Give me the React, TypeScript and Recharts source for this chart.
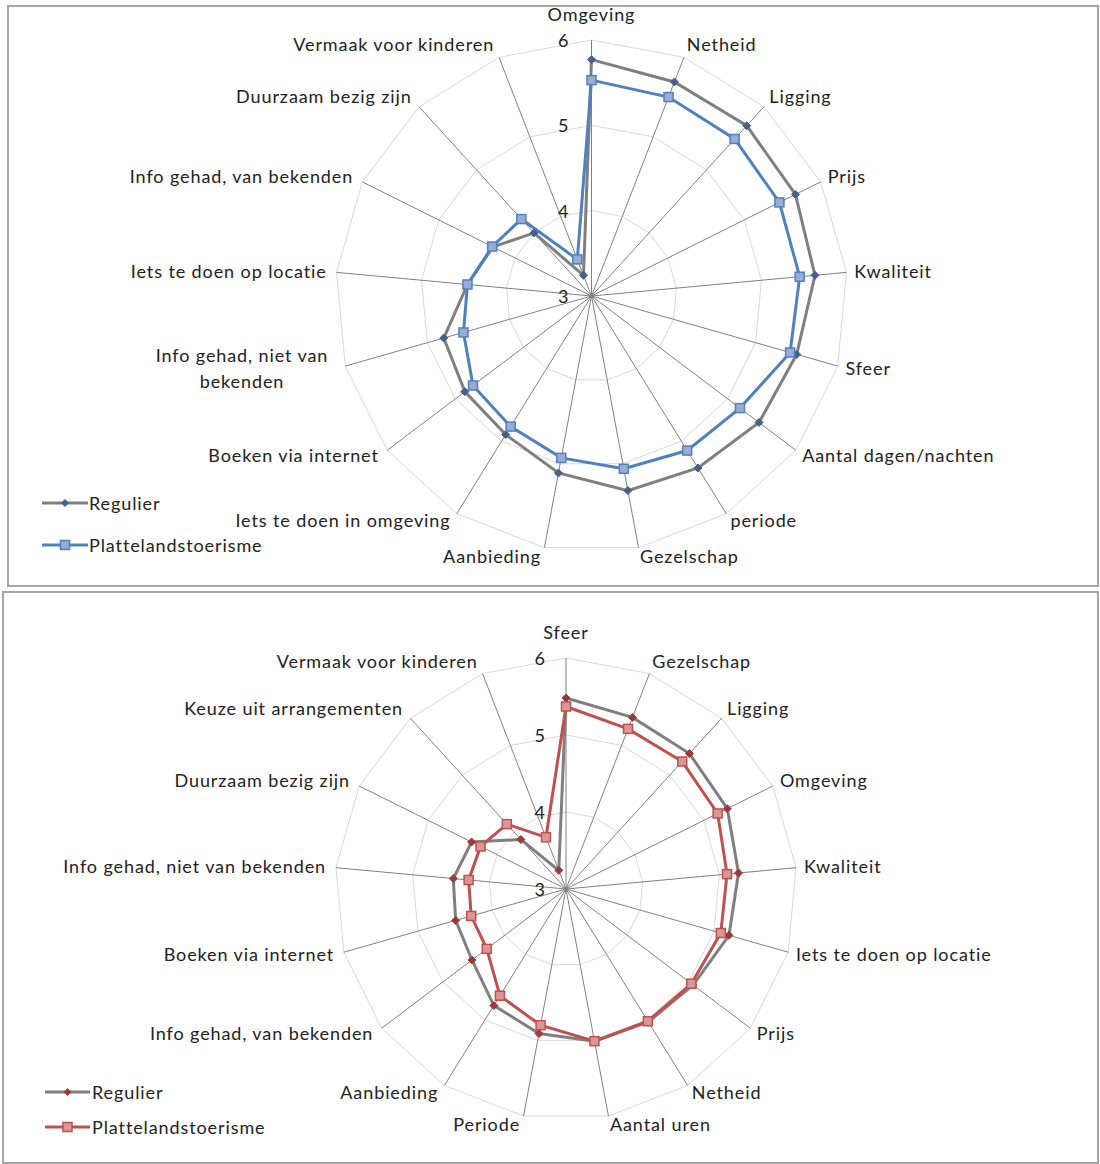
import React from 'react';
import { RadarChart, Radar, PolarGrid, PolarAngleAxis, PolarRadiusAxis } from 'recharts';

// ---- data -------------------------------------------------------------
const topCategories = [
  'Omgeving', 'Netheid', 'Ligging', 'Prijs', 'Kwaliteit', 'Sfeer',
  'Aantal dagen/nachten', 'periode', 'Gezelschap', 'Aanbieding',
  'Iets te doen in omgeving', 'Boeken via internet', 'Info gehad, niet van bekenden',
  'Iets te doen op locatie', 'Info gehad, van bekenden', 'Duurzaam bezig zijn',
  'Vermaak voor kinderen',
];
const topRegulier = [5.77, 5.69, 5.70, 5.67, 5.63, 5.50, 5.46, 5.37, 5.32, 5.11, 4.91, 4.86, 4.80, 4.46, 4.29, 4.00, 3.26];
const topPlatteland = [5.53, 5.50, 5.49, 5.46, 5.45, 5.42, 5.18, 5.13, 5.06, 4.93, 4.80, 4.74, 4.56, 4.46, 4.30, 4.22, 3.46];

const bottomCategories = [
  'Sfeer', 'Gezelschap', 'Ligging', 'Omgeving', 'Kwaliteit', 'Iets te doen op locatie',
  'Prijs', 'Netheid', 'Aantal uren', 'Periode', 'Aanbieding', 'Info gehad, van bekenden',
  'Boeken via internet', 'Info gehad, niet van bekenden', 'Duurzaam bezig zijn',
  'Keuze uit arrangementen', 'Vermaak voor kinderen',
];
const bottomRegulier = [5.48, 5.39, 5.38, 5.34, 5.25, 5.20, 5.07, 5.03, 5.01, 4.91, 4.78, 4.53, 4.49, 4.47, 4.37, 3.87, 3.26];
const bottomPlatteland = [5.37, 5.23, 5.24, 5.20, 5.10, 5.09, 5.04, 5.02, 5.01, 4.80, 4.63, 4.29, 4.28, 4.27, 4.24, 4.14, 3.72];

const seriesNames = ['Regulier', 'Plattelandstoerisme'];
const valueTicks = [3, 4, 5, 6];

// ---- styling ----------------------------------------------------------
const FONT = 'Lato, "Open Sans", sans-serif';
const FONT_SIZE = 18;
const LETTER_SPACING = 0.9;
const TEXT = '#222222';
const GRAY_LINE = '#7f7f7f';
const GRID = '#d9d9d9';
const SPOKE = '#808080';

type Palette = { line: string; fill: string; diamond: string };
const bluePalette: Palette = { line: '#4f81bd', fill: '#98acd6', diamond: '#46608a' };
const redPalette: Palette = { line: '#c0504d', fill: '#d99896', diamond: '#9a3b39' };

type Row = { name: string; regulier: number; platteland: number };
const buildRows = (cats: string[], a: number[], b: number[]): Row[] =>
  cats.map((name, i) => ({ name, regulier: a[i], platteland: b[i] }));

// ---- markers ----------------------------------------------------------
const diamondDot = (color: string) => (p: any) => {
  const { cx, cy, index } = p;
  if (cx == null || cy == null) return <g key={`dd-${index}`} />;
  const s = 4;
  return (
    <path
      key={`dd-${index}`}
      d={`M${cx},${cy - s}L${cx + s},${cy}L${cx},${cy + s}L${cx - s},${cy}Z`}
      fill={color}
      stroke={color}
      strokeWidth={1}
    />
  );
};

const squareDot = (pal: Palette) => (p: any) => {
  const { cx, cy, index } = p;
  if (cx == null || cy == null) return <g key={`sd-${index}`} />;
  const s = 9;
  return (
    <rect
      key={`sd-${index}`}
      x={cx - s / 2}
      y={cy - s / 2}
      width={s}
      height={s}
      fill={pal.fill}
      stroke={pal.line}
      strokeWidth={1.5}
    />
  );
};

// ---- axis labels ------------------------------------------------------
const makeAngleTick = (cx: number, cy: number, R: number, wrapAt: number, n: number) => (props: any) => {
  const { payload, index } = props;
  const deg = 90 - (index * 360) / n;
  const ang = (deg * Math.PI) / 180;
  const s = Math.cos(ang);
  const c = Math.sin(ang);
  const r = R + 8;
  let x = cx + r * s;
  let y = cy - r * c;
  let anchor: 'start' | 'middle' | 'end' = 'middle';
  if (s > 0.05) anchor = 'start';
  else if (s < -0.05) anchor = 'end';
  if (anchor === 'middle') y -= c * 18;
  else if (c > 0) y -= c * 6;
  if (anchor === 'end') x -= 2;
  const label = String(payload.value);

  if (wrapAt > 0 && label.length > wrapAt) {
    const cut = label.lastIndexOf(' ', wrapAt);
    const lines = [label.slice(0, cut), label.slice(cut + 1)];
    const half = (lines[0].length * (FONT_SIZE * 0.47 + LETTER_SPACING)) / 2;
    const mx = anchor === 'end' ? x - half : anchor === 'start' ? x + half : x;
    return (
      <text
        key={`at-${index}`}
        x={mx}
        y={y}
        textAnchor="middle"
        fontFamily={FONT}
        fontSize={FONT_SIZE}
        letterSpacing={LETTER_SPACING}
        fill={TEXT}
      >
        <tspan x={mx} y={y - 13} dominantBaseline="central">{lines[0]}</tspan>
        <tspan x={mx} y={y + 13} dominantBaseline="central">{lines[1]}</tspan>
      </text>
    );
  }
  return (
    <text
      key={`at-${index}`}
      x={x}
      y={y}
      textAnchor={anchor}
      dominantBaseline="central"
      fontFamily={FONT}
      fontSize={FONT_SIZE}
      letterSpacing={LETTER_SPACING}
      fill={TEXT}
    >
      {label}
    </text>
  );
};

const makeRadiusTick = (dx: number) => (props: any) => {
  const { x, y, payload, index } = props;
  return (
    <text
      key={`rt-${index}`}
      x={x - dx}
      y={y}
      textAnchor="end"
      dominantBaseline="central"
      fontFamily={FONT}
      fontSize={FONT_SIZE}
      fill={TEXT}
    >
      {payload.value}
    </text>
  );
};

// ---- legend -----------------------------------------------------------
type LegendProps = { x: number; rows: number[]; sampleW: number; textGap: number; pal: Palette };
function SeriesLegend({ x, rows, sampleW, textGap, pal }: LegendProps) {
  return (
    <>
      {seriesNames.map((name, i) => (
        <div
          key={name}
          style={{
            position: 'absolute',
            left: x,
            top: rows[i] - 12,
            height: 24,
            display: 'flex',
            alignItems: 'center',
            fontFamily: FONT,
            fontSize: FONT_SIZE,
            letterSpacing: LETTER_SPACING,
            color: TEXT,
            whiteSpace: 'nowrap',
          }}
        >
          <svg width={sampleW} height={14} style={{ display: 'block' }}>
            {i === 0 ? (
              <>
                <line x1={0} x2={sampleW} y1={7} y2={7} stroke={GRAY_LINE} strokeWidth={3} />
                <path
                  d={`M${sampleW / 2},3L${sampleW / 2 + 4},7L${sampleW / 2},11L${sampleW / 2 - 4},7Z`}
                  fill={pal.diamond}
                />
              </>
            ) : (
              <>
                <line x1={0} x2={sampleW} y1={7} y2={7} stroke={pal.line} strokeWidth={3} />
                <rect x={sampleW / 2 - 4.5} y={2.5} width={9} height={9} fill={pal.fill} stroke={pal.line} strokeWidth={1.5} />
              </>
            )}
          </svg>
          <span style={{ marginLeft: textGap }}>{name}</span>
        </div>
      ))}
    </>
  );
}

// ---- one radar panel ----------------------------------------------------
type PanelProps = {
  left: number;
  top: number;
  width: number;
  height: number;
  cx: number;
  cy: number;
  R: number;
  rows: Row[];
  pal: Palette;
  wrapAt: number;
  tickDx: number;
  legend: { x: number; rows: number[]; sampleW: number; textGap: number };
};

function RadarPanel({ left, top, width, height, cx, cy, R, rows, pal, wrapAt, tickDx, legend }: PanelProps) {
  const innerW = width - 4;
  const innerH = height - 4;
  return (
    <div
      style={{
        position: 'absolute',
        left,
        top,
        width,
        height,
        boxSizing: 'border-box',
        border: '2px solid #a6a6a6',
        background: '#fff',
      }}
    >
      <RadarChart
        width={innerW}
        height={innerH}
        data={rows}
        cx={cx}
        cy={cy}
        outerRadius={R}
        startAngle={90}
        endAngle={-270}
        margin={{ top: 0, right: 0, bottom: 0, left: 0 }}
      >
        <PolarGrid gridType="polygon" radialLines={false} stroke={GRID} strokeWidth={1} />
        <PolarGrid gridType="polygon" polarRadius={[]} stroke={SPOKE} strokeWidth={1} />
        <PolarAngleAxis
          dataKey="name"
          tick={makeAngleTick(cx, cy, R, wrapAt, rows.length)}
          tickLine={false}
          axisLine={false}
        />
        <PolarRadiusAxis
          angle={90}
          domain={[3, 6]}
          ticks={valueTicks}
          tickCount={4}
          axisLine={false}
          tickLine={false}
          tick={makeRadiusTick(tickDx)}
        />
        <Radar
          name={seriesNames[0]}
          dataKey="regulier"
          stroke={GRAY_LINE}
          strokeWidth={3}
          fill="none"
          fillOpacity={0}
          dot={diamondDot(pal.diamond)}
          isAnimationActive={false}
        />
        <Radar
          name={seriesNames[1]}
          dataKey="platteland"
          stroke={pal.line}
          strokeWidth={3}
          fill="none"
          fillOpacity={0}
          dot={squareDot(pal)}
          isAnimationActive={false}
        />
      </RadarChart>
      <SeriesLegend {...legend} x={legend.x - left - 2} rows={legend.rows.map((r) => r - top - 2)} pal={pal} />
    </div>
  );
}

export default function App() {
  const topRows = buildRows(topCategories, topRegulier, topPlatteland);
  const bottomRows = buildRows(bottomCategories, bottomRegulier, bottomPlatteland);
  return (
    <div style={{ position: 'absolute', left: 0, top: 0, width: 1100, height: 1164, background: '#fff' }}>
      <RadarPanel
        left={7}
        top={5}
        width={1092}
        height={582}
        cx={591.5 - 9}
        cy={296 - 7}
        R={256}
        rows={topRows}
        pal={bluePalette}
        wrapAt={25}
        tickDx={23}
        legend={{ x: 42, rows: [503, 545], sampleW: 46, textGap: 1 }}
      />
      <RadarPanel
        left={2}
        top={591}
        width={1097}
        height={573}
        cx={566 - 4}
        cy={889 - 593}
        R={231}
        rows={bottomRows}
        pal={redPalette}
        wrapAt={0}
        tickDx={21}
        legend={{ x: 45, rows: [1092, 1127], sampleW: 45, textGap: 2 }}
      />
    </div>
  );
}
